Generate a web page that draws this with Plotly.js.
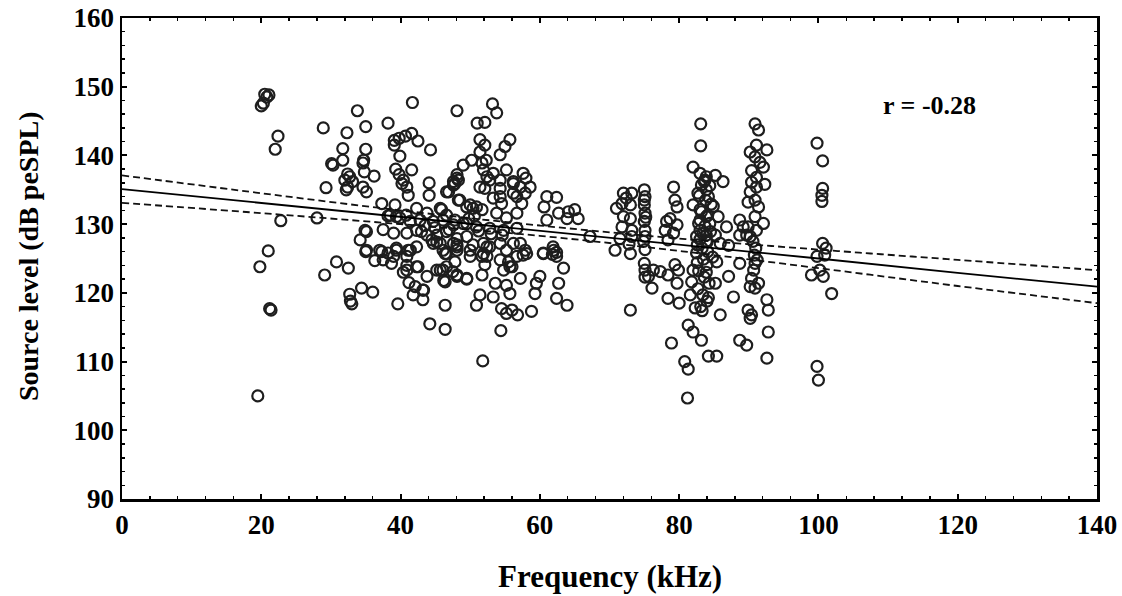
<!DOCTYPE html>
<html>
<head>
<meta charset="utf-8">
<script src="https://cdn.plot.ly/plotly-3.0.1.min.js"></script>
<style>html,body{margin:0;padding:0;background:#fff;}#chart{width:1122px;height:596px;}</style>
</head>
<body>
<div id="chart"></div>
<script>
// Scatter data: frequency (kHz) and source level (dB peSPL)
const freqKHz = [
 20.5,20.8,21.1,20.3,20.0,22.4,22.0,22.8,21.0,19.8,21.2,21.4,19.5,
 28.9,28.0,29.1,30.1,29.3,30.8,32.5,32.7,32.8,33.0,36.0,33.8,35.0,32.3,31.7,31.7,35.0,34.7,34.6,34.8,36.2,32.4,32.7,32.0,33.1,32.4,32.2,34.6,35.1,30.3,35.1,34.2,34.9,35.1,37.0,35.0,36.3,34.4,37.3,
 38.2,41.7,39.1,39.1,39.8,40.7,41.6,42.5,44.3,39.9,39.3,39.8,40.4,40.2,40.9,41.1,41.6,44.1,44.1,46.9,47.6,48.3,48.3,37.3,39.2,38.5,39.4,40.8,42.3,43.8,45.9,37.5,39.0,40.9,43.0,44.5,45.7,47.6,38.2,39.9,41.4,42.8,44.7,46.1,47.6,42.3,43.8,45.2,46.6,48.1,44.7,39.4,41.4,39.0,40.9,37.5,38.2,39.4,41.1,40.9,38.7,40.4,42.5,45.7,46.2,47.5,41.2,43.2,43.2,41.8,39.6,44.2,46.4,46.4,42.3,45.2,46.6,48.1,46.6,45.2,48.1,43.8,42.3,40.9,42.1,43.3,46.4,48.1,47.8,46.4,46.1,46.1,48.1,46.6,47.8,48.1,49.0,48.1,
 53.2,53.8,51.0,52.1,51.4,52.1,55.7,55.0,54.3,51.4,52.3,50.2,51.9,48.1,47.6,53.3,52.8,51.4,54.3,53.3,54.5,56.2,57.6,58.0,57.2,58.6,56.7,57.9,57.4,48.5,50.0,50.9,51.7,52.4,54.3,55.2,56.2,52.1,54.3,56.2,49.5,50.4,51.7,53.8,55.2,56.7,45.7,46.6,47.8,49.0,49.5,50.9,52.8,54.8,56.7,49.5,50.4,52.4,54.3,56.2,51.7,54.3,55.7,56.7,49.5,48.1,50.0,51.9,52.8,52.4,55.2,57.2,58.1,51.8,54.4,50.9,53.3,54.5,55.2,56.0,56.8,58.8,49.5,51.7,52.1,51.4,53.6,55.2,55.7,57.2,59.5,55.5,54.8,56.0,51.9,50.0,57.6,57.9,
 60.5,61.9,62.4,60.0,59.3,62.4,62.7,63.9,63.4,62.0,62.4,61.8,60.5,61.0,62.4,60.6,62.7,64.1,65.0,65.5,63.9,61.0,67.2,71.0,72.0,73.2,71.8,73.0,72.0,73.0,71.8,73.2,71.5,73.2,75.0,75.1,75.0,75.1,75.0,75.1,75.1,73.0,70.8,73.0,75.0,75.1,75.6,76.1,76.3,
 83.1,83.1,90.9,91.4,91.1,90.2,92.6,90.9,91.6,92.1,90.4,91.1,90.4,92.3,91.1,90.2,90.9,89.9,91.4,90.9,92.1,89.9,91.1,90.2,
 82.0,83.0,83.9,83.7,85.2,86.3,83.2,83.9,82.7,84.2,82.0,83.0,84.9,83.9,85.6,83.0,84.4,86.8,83.0,83.9,85.2,82.5,83.9,85.9,87.1,
 79.2,79.4,79.7,78.7,78.2,79.7,79.2,78.0,78.4,88.7,89.2,89.7,88.7,
 75.1,77.3,78.4,79.4,79.9,79.7,78.4,80.0,82.0,81.8,81.6,82.3,81.3,82.0,83.2,84.2,85.4,85.9,85.2,85.4,87.1,87.8,88.7,88.7,89.7,89.9,90.4,90.2,92.6,92.8,92.8,92.6,80.8,81.3,81.2,78.9,
 90.2,90.9,91.4,90.7,90.9,90.4,
 82.5,83.5,84.0,82.8,83.6,84.3,82.7,83.4,84.0,83.1,83.3,82.6,84.1,
 83.6,84.4,82.9,83.8,84.6,83.2,84.1,82.8,83.7,84.5,83.0,84.0,83.4,84.8,82.6,83.9,84.2,83.3,
 75.0,75.2,74.9,75.1,72.4,72.8,90.6,91.0,90.8,91.2,
 44.9,47.0,49.8,51.2,53.0,54.6,43.5,50.6,
 99.8,100.6,100.6,100.5,100.5,100.6,101.1,99.8,100.9,100.2,99.0,100.7,101.9,99.8,100.0
];
const levelDB = [
 148.9,148.5,148.8,147.6,147.2,142.8,140.9,130.5,126.1,123.8,117.7,117.5,105.0,
 144.0,130.9,122.6,138.8,135.3,124.5,123.6,119.8,118.8,118.4,120.1,146.5,144.2,143.3,141.0,139.3,140.9,139.3,138.9,137.6,137.0,137.3,136.9,136.4,136.2,135.4,135.0,135.4,134.7,138.6,128.9,127.7,129.1,126.2,126.2,126.0,124.7,120.7,126.0,
 144.7,147.7,142.2,141.5,142.5,142.8,143.2,142.1,140.8,139.9,138.0,137.2,136.4,135.9,135.4,134.2,137.9,136.0,134.2,134.7,135.7,136.4,133.5,133.0,132.8,131.3,131.1,131.3,132.3,131.6,132.1,129.2,128.7,128.7,128.9,127.7,127.2,127.2,131.2,130.9,130.4,130.6,130.4,130.6,129.9,129.1,128.4,128.4,128.9,127.9,127.2,126.5,126.2,125.3,125.3,124.8,125.8,126.2,126.2,124.0,124.3,123.0,123.8,123.3,121.8,123.1,121.5,120.4,119.0,119.7,118.4,115.5,114.7,118.2,126.7,127.4,125.7,127.0,123.8,123.3,122.4,122.4,123.8,123.3,120.9,120.4,121.6,122.6,124.5,125.7,123.3,126.2,126.2,134.7,135.9,136.7,138.6,146.5,
 147.5,146.2,144.7,144.8,142.3,141.5,142.3,141.3,140.1,140.5,139.3,139.3,137.9,137.2,136.2,137.4,136.4,135.4,135.2,133.8,133.0,136.2,137.4,136.7,135.4,135.4,134.0,134.5,133.0,133.5,132.8,132.5,138.9,136.9,136.4,137.9,135.9,135.2,134.0,134.5,132.5,132.3,132.1,131.6,130.9,131.6,132.3,131.3,130.6,130.1,130.1,129.6,129.4,129.1,129.4,128.2,127.0,126.7,127.2,127.2,125.3,124.8,123.8,125.3,122.1,126.7,126.2,127.2,126.7,125.3,126.2,127.2,125.7,110.1,114.5,118.2,119.4,117.7,117.0,117.5,116.8,117.3,122.0,122.6,124.1,119.7,121.4,121.1,119.9,122.1,121.4,124.5,123.3,123.8,125.7,125.3,125.5,126.2,
 125.7,126.7,125.3,122.4,119.9,119.2,121.4,118.2,123.6,126.2,125.9,125.6,125.8,134.0,133.9,132.5,131.6,131.8,132.1,130.8,130.8,130.6,128.2,132.3,134.5,134.5,133.0,132.8,131.1,130.8,129.6,129.1,127.9,128.2,135.0,134.0,132.8,131.6,130.4,129.1,128.2,117.5,126.2,125.7,124.3,123.3,122.4,120.7,123.3,
 144.6,141.4,144.6,143.7,141.5,140.5,140.8,139.8,139.0,138.3,137.8,136.8,136.1,135.8,135.4,134.7,133.5,133.2,132.5,131.1,130.1,129.6,129.1,128.2,
 138.3,137.4,136.9,136.4,137.1,136.2,135.7,135.0,134.5,134.0,132.8,132.1,132.6,131.1,131.1,130.6,130.1,129.6,129.1,128.4,128.4,128.2,127.5,127.2,126.9,
 135.4,133.5,132.5,130.8,130.4,129.9,128.7,129.1,127.7,130.6,129.6,128.4,128.4,
 122.3,123.1,122.6,124.1,123.3,121.4,119.2,118.5,123.3,121.6,119.7,117.8,115.3,114.3,113.1,110.8,110.8,116.8,121.4,124.5,122.4,119.4,124.3,113.1,112.4,117.5,116.8,116.3,119.0,117.5,114.3,110.5,110.0,108.9,104.7,112.7,
 120.9,120.7,121.4,123.3,124.3,122.1,
 125.8,124.9,124.1,123.2,122.3,121.4,120.6,119.7,118.8,118.0,126.5,127.0,126.0,
 136.2,135.6,134.1,133.5,132.9,131.8,131.3,130.1,129.7,128.9,127.8,127.4,128.6,125.2,124.4,123.0,119.3,117.4,
 133.5,131.0,127.5,126.3,133.8,127.1,127.5,126.5,125.5,124.8,
 129.5,129.2,130.8,129.0,128.6,128.4,129.8,131.2,
 141.8,139.2,135.2,134.2,133.3,127.2,126.5,125.3,125.5,123.3,122.6,122.4,119.9,109.3,107.3
];
// Regression line and 95% confidence band, read at every 20 kHz
const fitX = [0, 20, 40, 60, 80, 100, 120, 140];
const fitY = [135.1, 133.1, 131.1, 129.0, 127.0, 125.0, 122.9, 120.9];
const upperY = [137.1, 134.5, 132.0, 129.8, 127.9, 126.3, 124.8, 123.3];
const lowerY = [133.1, 131.6, 130.0, 128.3, 126.1, 123.6, 121.0, 118.5];
const rLabel = 'r = -0.28';
const xTitle = 'Frequency (kHz)';
const yTitle = 'Source level (dB peSPL)';

const serif = '"Liberation Serif", "Times New Roman", serif';
const data = [
  {x: freqKHz, y: levelDB, type: 'scatter', mode: 'markers', hoverinfo: 'skip',
   marker: {symbol: 'circle-open', size: 11, color: '#1e1e1e', line: {width: 2.2, color: '#1e1e1e'}}},
  {x: fitX, y: upperY, type: 'scatter', mode: 'lines', line: {color: '#111', width: 1.8, dash: '7px,4px', shape: 'spline'}},
  {x: fitX, y: lowerY, type: 'scatter', mode: 'lines', line: {color: '#111', width: 1.8, dash: '7px,4px', shape: 'spline'}},
  {x: fitX, y: fitY, type: 'scatter', mode: 'lines', line: {color: '#000', width: 1.8}}
];
const axisCommon = {
  showgrid: false, zeroline: false, showline: true, linecolor: '#000', linewidth: 2.5,
  mirror: 'allticks', ticks: 'inside', ticklen: 5, tickwidth: 2, tickcolor: '#000',
  tickfont: {family: serif, size: 27, color: '#000', weight: 'bold'}
};
const layout = {
  width: 1122, height: 596,
  margin: {l: 122, r: 25, t: 18, b: 97},
  paper_bgcolor: '#fff', plot_bgcolor: '#fff',
  showlegend: false,
  xaxis: Object.assign({}, axisCommon, {
    range: [0, 140], dtick: 20, tick0: 0,
    minor: {dtick: 4, ticks: 'inside', ticklen: 3, tickwidth: 1.5, tickcolor: '#000'}
  }),
  yaxis: Object.assign({}, axisCommon, {
    range: [90, 160], dtick: 10, tick0: 90,
    minor: {dtick: 2, ticks: 'inside', ticklen: 3, tickwidth: 1.5, tickcolor: '#000'}
  }),
  annotations: [
    {x: 116, y: 147.3, xref: 'x', yref: 'y', text: rLabel, showarrow: false,
     font: {family: serif, size: 26, color: '#000', weight: 'bold'}},
    {x: 0.5, y: -0.162, xref: 'paper', yref: 'paper', xanchor: 'center', yanchor: 'middle',
     text: xTitle, showarrow: false, font: {family: serif, size: 31, color: '#000', weight: 'bold'}},
    {x: -0.0964, y: 0.505, xref: 'paper', yref: 'paper', xanchor: 'center', yanchor: 'middle', textangle: -90,
     text: yTitle, showarrow: false, font: {family: serif, size: 28, color: '#000', weight: 'bold'}}
  ]
};
Plotly.newPlot('chart', data, layout, {staticPlot: true, displayModeBar: false});
</script>
</body>
</html>
